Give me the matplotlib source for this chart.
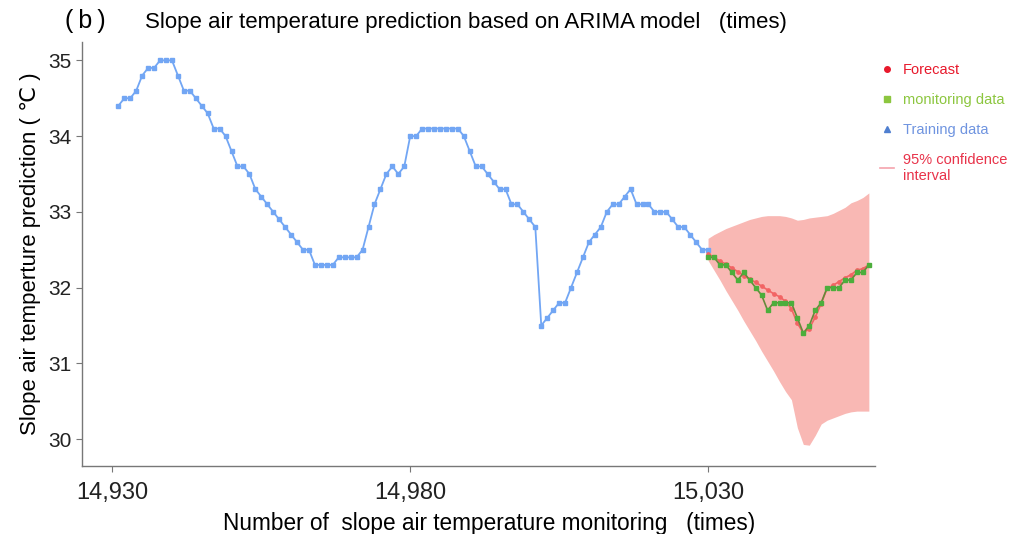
import matplotlib
matplotlib.use("Agg")
import matplotlib.pyplot as plt
from matplotlib.lines import Line2D
import numpy as np

plt.rcParams['font.family'] = ['Liberation Sans', 'DejaVu Sans']

# training series, monitoring index 14931 .. 15030
train_start = 14931
train_temp = [34.4, 34.5, 34.5, 34.6, 34.8, 34.9, 34.9, 35.0, 35.0, 35.0,
              34.8, 34.6, 34.6, 34.5, 34.4, 34.3, 34.1, 34.1, 34.0, 33.8,
              33.6, 33.6, 33.5, 33.3, 33.2, 33.1, 33.0, 32.9, 32.8, 32.7,
              32.6, 32.5, 32.5, 32.3, 32.3, 32.3, 32.3, 32.4, 32.4, 32.4,
              32.4, 32.5, 32.8, 33.1, 33.3, 33.5, 33.6, 33.5, 33.6, 34.0,
              34.0, 34.1, 34.1, 34.1, 34.1, 34.1, 34.1, 34.1, 34.0, 33.8,
              33.6, 33.6, 33.5, 33.4, 33.3, 33.3, 33.1, 33.1, 33.0, 32.9,
              32.8, 31.5, 31.6, 31.7, 31.8, 31.8, 32.0, 32.2, 32.4, 32.6,
              32.7, 32.8, 33.0, 33.1, 33.1, 33.2, 33.3, 33.1, 33.1, 33.1,
              33.0, 33.0, 33.0, 32.9, 32.8, 32.8, 32.7, 32.6, 32.5, 32.5]

# forecast window 15030 .. 15057
test_start = 15030
monitor_temp = [32.4, 32.4, 32.3, 32.3, 32.2, 32.1, 32.2, 32.1, 32.0, 31.9,
                31.7, 31.8, 31.8, 31.8, 31.8, 31.6, 31.4, 31.5, 31.7, 31.8,
                32.0, 32.0, 32.0, 32.1, 32.1, 32.2, 32.2, 32.3]
forecast_temp = [32.45, 32.40, 32.35, 32.31, 32.26, 32.21, 32.16, 32.11, 32.07, 32.02,
                 31.97, 31.92, 31.88, 31.82, 31.72, 31.53, 31.40, 31.46, 31.61, 31.79,
                 31.99, 32.03, 32.08, 32.13, 32.17, 32.23, 32.25, 32.30]
ci_upper = [32.65, 32.70, 32.74, 32.78, 32.81, 32.84, 32.87, 32.90, 32.92, 32.94,
            32.95, 32.95, 32.95, 32.94, 32.92, 32.89, 32.90, 32.92, 32.93, 32.94,
            32.95, 32.98, 33.02, 33.06, 33.12, 33.15, 33.19, 33.25]
ci_lower = [32.36, 32.23, 32.10, 31.96, 31.83, 31.70, 31.56, 31.43, 31.30, 31.16,
            31.03, 30.90, 30.76, 30.63, 30.52, 30.15, 29.93, 29.92, 30.05, 30.20,
            30.25, 30.28, 30.31, 30.34, 30.36, 30.37, 30.37, 30.37]

x_train = np.arange(train_start, train_start + len(train_temp))
x_test = np.arange(test_start, test_start + len(monitor_temp))

c_train = '#72a6f4'
c_monitor_pt = '#4cae3c'
c_monitor_ln = '#66893a'
c_forecast = '#f26464'
c_band = '#f9b8b4'

fig = plt.figure(figsize=(10.19, 5.34), dpi=100)
ax = fig.add_axes([0.0805, 0.128, 0.778, 0.793])

ax.fill_between(x_test, ci_lower, ci_upper, color=c_band, lw=0, zorder=1)
ax.plot(x_train, train_temp, color=c_train, lw=1.3, marker='s', ms=2.5, zorder=3)
ax.plot(x_test, forecast_temp, color=c_forecast, lw=1.2, marker='o', ms=2.4, zorder=4)
ax.plot(x_test, monitor_temp, color=c_monitor_ln, lw=1.2, zorder=5)
ax.plot(x_test, monitor_temp, ls='none', marker='s', ms=2.2, color=c_monitor_pt, zorder=6)

ax.set_xlim(14924.9, 15058.0)
ax.set_ylim(29.65, 35.24)
ax.set_xticks([14930, 14980, 15030])
ax.set_xticklabels(['14,930', '14,980', '15,030'])
ax.set_yticks([30, 31, 32, 33, 34, 35])
for s in ['top', 'right']:
    ax.spines[s].set_visible(False)
for s in ['left', 'bottom']:
    ax.spines[s].set_color('#777777')
    ax.spines[s].set_linewidth(1.0)
ax.tick_params(axis='both', colors='#777777', length=4, width=0.8,
               labelsize=15, labelcolor='#222222')
ax.tick_params(axis='x', pad=8, labelsize=17)

ax.set_xlabel('Number of  slope air temperature monitoring   (times)',
              fontsize=16.3, labelpad=4)
ax.xaxis.set_label_coords(0.513, -0.11)
ax.set_ylabel('Slope air temperture prediction ( ℃ )', fontsize=16, labelpad=5)

fig.text(0.064, 0.96, '(\u2009b\u2009)', fontsize=18, va='center', ha='left')
fig.text(0.142, 0.958, 'Slope air temperature prediction based on ARIMA model   (times)',
         fontsize=16, va='center', ha='left')

handles = [
    Line2D([], [], ls='none', marker='o', ms=4, color='#e8192c'),
    Line2D([], [], ls='none', marker='s', ms=4, color='#8cc63f'),
    Line2D([], [], ls='none', marker='^', ms=5, color='#4f7fd0'),
    Line2D([], [], color='#f5a3ad', lw=1.2),
]
labels = ['Forecast', 'monitoring data', 'Training data', '95% confidence\ninterval']
leg = ax.legend(handles, labels, loc='upper left', bbox_to_anchor=(0.995, 0.972),
                frameon=False, fontsize=10.5, handlelength=1.0, handletextpad=0.6,
                labelspacing=1.1, borderaxespad=0.2,
                labelcolor=['#e8192c', '#8cc63f', '#6f94e0', '#e8334a'])

fig.savefig('out.png', dpi=100)
